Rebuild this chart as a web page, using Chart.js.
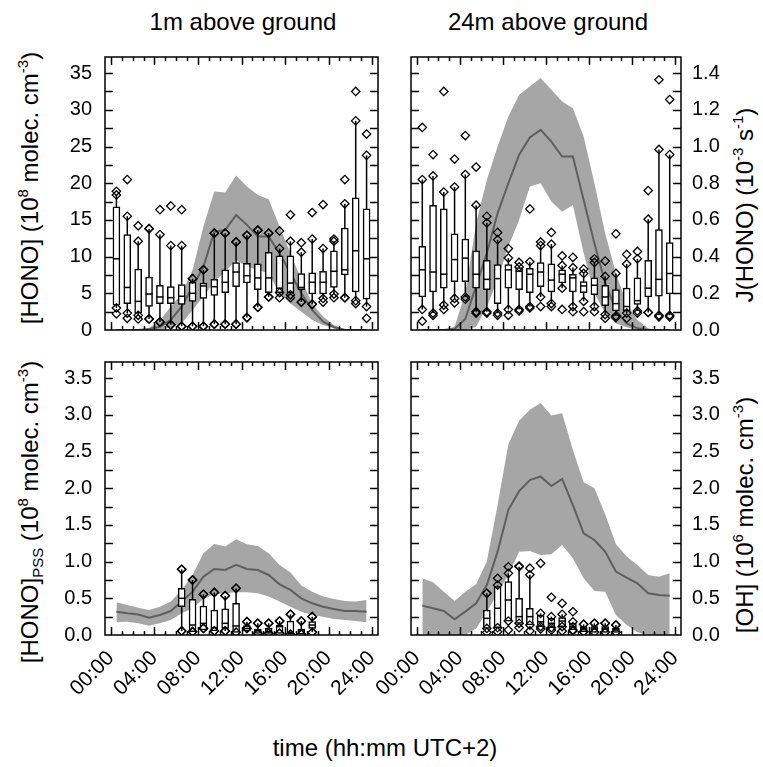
<!DOCTYPE html>
<html>
<head>
<meta charset="utf-8">
<script src="https://cdn.jsdelivr.net/npm/chart.js@4.4.1/dist/chart.umd.min.js"></script>
<style>
body { margin:0; width:763px; height:767px; background:#fff; position:relative; overflow:hidden; font-family:"Liberation Sans", Arial, sans-serif; }
canvas { position:absolute; }
.t { position:absolute; white-space:nowrap; color:#000; font-size:24px; line-height:1; transform:translate(-50%,-50%); }
.rot { transform:translate(-50%,-50%) rotate(-90deg); }
sup { font-size:15px; vertical-align:10px; line-height:0; }
sub { font-size:15px; vertical-align:-5px; line-height:0; }
</style>
</head>
<body>
<div class="t" style="left:243px; top:22px;">1m above ground</div>
<div class="t" style="left:548px; top:22px;">24m above ground</div>
<div class="t rot" style="left:30px; top:188px;">[HONO] (10<sup>8</sup> molec. cm<sup>-3</sup>)</div>
<div class="t rot" style="left:30px; top:512px;">[HONO]<sub>PSS</sub> (10<sup>8</sup> molec. cm<sup>-3</sup>)</div>
<div class="t rot" style="left:745px; top:205px;">J(HONO) (10<sup>-3</sup> s<sup>-1</sup>)</div>
<div class="t rot" style="left:745px; top:515px;">[OH] (10<sup>6</sup> molec. cm<sup>-3</sup>)</div>
<div class="t" style="left:385px; top:748px;">time (hh:mm UTC+2)</div>

<canvas id="c1" width="400" height="310" style="left:0px; top:40px;"></canvas>
<canvas id="c2" width="423" height="310" style="left:340px; top:40px;"></canvas>
<canvas id="c3" width="400" height="350" style="left:0px; top:345px;"></canvas>
<canvas id="c4" width="423" height="350" style="left:340px; top:345px;"></canvas>

<script>
// hour of day (bin centres)
const hours = [0.5, 1.5, 2.5, 3.5, 4.5, 5.5, 6.5, 7.5, 8.5, 9.5, 10.5, 11.5,
               12.5, 13.5, 14.5, 15.5, 16.5, 17.5, 18.5, 19.5, 20.5, 21.5, 22.5, 23.5];
const pssHours = [6.5, 7.5, 8.5, 9.5, 10.5, 11.5, 12.5, 13.5, 14.5, 15.5, 16.5, 17.5, 18.5];

const xTicks = [0, 4, 8, 12, 16, 20, 24];
const xTickLabels = ['00:00', '04:00', '08:00', '12:00', '16:00', '20:00', '24:00'];
const honoTicks = [0, 5, 10, 15, 20, 25, 30, 35];
const jTicks = [0, 0.2, 0.4, 0.6, 0.8, 1.0, 1.2, 1.4];
const pssTicks = [0, 0.5, 1.0, 1.5, 2.0, 2.5, 3.0, 3.5];

// boxes: [low, whiskerLow, q1, median, q3, whiskerHigh, high]
const hono1m = [
    [2.2, 3.0, 3.4, 9.7, 16.8, 18.4, 18.9],
    [1.6, 2.3, 3.6, 5.8, 13.0, 15.5, 20.5],
    [1.5, 2.0, 2.3, 3.9, 8.3, 12.1, 14.2],
    [1.5, 1.5, 3.2, 4.9, 7.2, 13.8, 13.8],
    [1.1, 1.1, 3.6, 4.5, 6.1, 13.0, 16.4],
    [0.7, 0.7, 3.6, 4.4, 5.9, 11.5, 16.9],
    [0.5, 0.5, 3.5, 4.6, 6.2, 11.5, 16.4],
    [0.5, 0.5, 3.9, 5.0, 6.5, 7.0, 7.0],
    [0.5, 0.5, 4.3, 6.0, 6.4, 8.2, 8.2],
    [0.8, 0.8, 4.7, 5.9, 6.9, 13.2, 13.2],
    [0.8, 0.8, 5.1, 6.5, 8.2, 13.2, 13.2],
    [0.8, 0.8, 5.9, 7.9, 9.2, 12.0, 12.0],
    [1.7, 1.7, 6.4, 7.4, 9.1, 12.9, 12.9],
    [3.1, 3.1, 5.5, 7.1, 9.0, 13.6, 13.6],
    [4.5, 4.5, 5.1, 7.1, 10.6, 13.2, 13.2],
    [4.4, 5.1, 5.1, 5.7, 10.1, 11.1, 13.5],
    [4.4, 4.8, 5.1, 6.4, 10.1, 12.1, 15.7],
    [3.8, 3.8, 5.5, 5.8, 7.7, 10.6, 11.9],
    [3.5, 3.5, 4.9, 6.5, 7.8, 12.4, 16.0],
    [3.8, 4.3, 4.9, 6.5, 8.0, 11.1, 17.1],
    [4.4, 4.9, 5.8, 8.0, 10.8, 12.1, 12.4],
    [4.4, 4.4, 7.5, 8.2, 13.9, 17.2, 20.5],
    [3.6, 4.0, 5.2, 10.8, 18.0, 28.5, 32.5],
    [1.6, 3.2, 4.2, 9.7, 16.5, 23.8, 26.7]
];
const hono24m = [
    [1.2, 2.8, 4.5, 8.2, 11.4, 20.5, 27.6],
    [2.0, 2.3, 5.2, 7.9, 17.0, 21.0, 23.9],
    [2.8, 3.4, 5.7, 7.6, 16.5, 18.8, 32.5],
    [3.7, 4.3, 6.6, 9.6, 13.1, 19.5, 23.3],
    [4.2, 4.5, 6.6, 9.8, 12.4, 21.2, 26.5],
    [2.3, 2.5, 5.7, 7.6, 10.8, 17.0, 22.2],
    [2.3, 2.5, 5.5, 6.9, 9.5, 14.6, 15.5],
    [2.0, 2.3, 3.6, 7.0, 8.9, 12.3, 13.3],
    [2.0, 2.8, 5.7, 8.2, 8.9, 9.8, 11.1],
    [2.6, 2.8, 5.5, 8.0, 8.5, 8.6, 9.2],
    [3.0, 3.2, 5.1, 7.6, 8.4, 9.3, 16.5],
    [3.2, 4.5, 5.9, 7.9, 9.2, 11.5, 12.0],
    [3.2, 3.6, 5.2, 6.8, 9.0, 11.7, 13.3],
    [2.8, 5.7, 6.4, 7.6, 8.2, 8.8, 10.1],
    [2.5, 3.2, 5.2, 7.1, 7.6, 8.5, 9.9],
    [2.5, 3.9, 5.1, 6.0, 6.6, 7.7, 8.3],
    [2.5, 3.2, 4.8, 6.1, 7.1, 9.2, 9.7],
    [1.6, 2.1, 3.3, 4.5, 6.1, 7.3, 9.4],
    [1.7, 1.9, 2.6, 3.6, 5.5, 7.7, 13.1],
    [1.6, 2.3, 2.6, 3.2, 5.7, 9.0, 10.3],
    [2.3, 2.6, 3.5, 4.0, 7.1, 9.7, 10.7],
    [2.4, 2.4, 4.5, 5.7, 9.5, 15.1, 19.0],
    [1.8, 2.0, 4.6, 6.9, 13.7, 24.6, 34.1],
    [1.8, 2.0, 4.9, 7.7, 11.9, 23.9, 31.4]
];
const pss1m = [
    [0.055, 0.055, 0.386, 0.5, 0.636, 0.895, 0.895],
    [0.045, 0.045, 0.045, 0.136, 0.486, 0.75, 0.75],
    [0.09, 0.09, 0.068, 0.159, 0.395, 0.555, 0.555],
    [0.055, 0.055, 0.055, 0.1, 0.34, 0.58, 0.58],
    [0.055, 0.055, 0.09, 0.159, 0.355, 0.536, 0.536],
    [0.036, 0.036, 0.036, 0.123, 0.432, 0.636, 0.636],
    [0.09, 0.09, 0.055, 0.09, 0.127, 0.182, 0.182],
    [0.023, 0.023, 0.023, 0.055, 0.082, 0.159, 0.159],
    [0.023, 0.023, 0.023, 0.045, 0.09, 0.159, 0.159],
    [0.023, 0.023, 0.023, 0.114, 0.136, 0.19, 0.19],
    [0.01, 0.01, 0.01, 0.036, 0.19, 0.282, 0.282],
    [0.01, 0.01, 0.01, 0.068, 0.082, 0.19, 0.19],
    [0.036, 0.036, 0.09, 0.136, 0.182, 0.25, 0.25]
];
const pss24m = [
    [0.036, 0.09, 0.09, 0.227, 0.34, 0.568, 0.568],
    [0.045, 0.1, 0.1, 0.364, 0.66, 0.68, 0.773],
    [0.068, 0.19, 0.19, 0.477, 0.727, 0.84, 0.93],
    [0.1, 0.159, 0.159, 0.25, 0.5, 0.93, 0.94],
    [0.055, 0.136, 0.136, 0.25, 0.364, 0.82, 0.91],
    [0.082, 0.114, 0.114, 0.18, 0.27, 0.295, 0.977],
    [0.068, 0.1, 0.1, 0.159, 0.227, 0.25, 0.514],
    [0.055, 0.114, 0.114, 0.19, 0.236, 0.282, 0.432],
    [0.055, 0.068, 0.068, 0.114, 0.159, 0.18, 0.318],
    [0.045, 0.045, 0.045, 0.082, 0.114, 0.145, 0.145],
    [0.036, 0.036, 0.036, 0.082, 0.114, 0.159, 0.159],
    [0.036, 0.036, 0.036, 0.082, 0.114, 0.159, 0.159],
    [0.036, 0.036, 0.036, 0.068, 0.09, 0.136, 0.136]
];

// J(HONO) and OH: mean and spread
const j1mMean  = [0, 0, 0, 0.005, 0.018, 0.055, 0.127, 0.236, 0.345, 0.536, 0.545, 0.627, 0.573, 0.509, 0.509, 0.418, 0.309, 0.2, 0.109, 0.045, 0.015, 0, 0, 0];
const j1mUpper = [0, 0, 0, 0.01, 0.055, 0.127, 0.2, 0.327, 0.564, 0.755, 0.749, 0.842, 0.782, 0.736, 0.713, 0.564, 0.418, 0.273, 0.145, 0.073, 0.027, 0.004, 0, 0];
const j1mLower = [0, 0, 0, 0, 0, 0.015, 0.036, 0.109, 0.182, 0.264, 0.318, 0.382, 0.345, 0.327, 0.309, 0.2, 0.145, 0.1, 0.055, 0.027, 0.009, 0, 0, 0];
const j24mMean  = [0, 0, 0, 0.005, 0.06, 0.24, 0.42, 0.636, 0.8, 0.955, 1.049, 1.091, 1.027, 0.945, 0.945, 0.709, 0.473, 0.255, 0.109, 0.036, 0.009, 0, 0, 0];
const j24mUpper = [0, 0, 0, 0.018, 0.2, 0.582, 0.818, 1.0, 1.164, 1.282, 1.327, 1.373, 1.309, 1.245, 1.209, 1.055, 0.8, 0.527, 0.309, 0.145, 0.055, 0.009, 0, 0];
const j24mLower = [0, 0, 0, 0, 0, 0.018, 0.127, 0.273, 0.455, 0.6, 0.782, 0.8, 0.7, 0.645, 0.682, 0.418, 0.2, 0.091, 0.036, 0.015, 0, 0, 0, 0];
const oh1mMean  = [0.318, 0.295, 0.28, 0.236, 0.273, 0.327, 0.455, 0.59, 0.795, 0.9, 0.886, 0.955, 0.9, 0.886, 0.818, 0.69, 0.614, 0.5, 0.432, 0.386, 0.355, 0.327, 0.327, 0.318];
const oh1mUpper = [0.445, 0.41, 0.373, 0.34, 0.386, 0.455, 0.614, 0.818, 1.114, 1.24, 1.205, 1.305, 1.236, 1.214, 1.114, 0.955, 0.85, 0.673, 0.59, 0.523, 0.49, 0.464, 0.455, 0.477];
const oh1mLower = [0.173, 0.182, 0.159, 0.127, 0.159, 0.205, 0.295, 0.364, 0.49, 0.555, 0.568, 0.582, 0.582, 0.568, 0.523, 0.455, 0.386, 0.318, 0.273, 0.25, 0.218, 0.205, 0.191, 0.173];
const oh24mMean  = [0.4, 0.364, 0.327, 0.214, 0.318, 0.432, 0.68, 1.136, 1.705, 1.96, 2.11, 2.16, 2.03, 2.127, 1.77, 1.386, 1.295, 1.136, 0.864, 0.782, 0.705, 0.568, 0.545, 0.536];
const oh24mUpper = [0.773, 0.718, 0.59, 0.464, 0.59, 0.69, 1.0, 1.77, 2.6, 2.92, 3.07, 3.16, 2.99, 3.02, 2.52, 2.08, 2.0, 1.645, 1.236, 1.068, 0.955, 0.818, 0.795, 0.84];
const oh24mLower = [0.01, 0, 0, 0, 0, 0.09, 0.318, 0.568, 0.818, 1.136, 1.145, 1.09, 1.1, 1.227, 1.045, 0.773, 0.6, 0.59, 0.273, 0.136, 0.036, 0, 0, 0.01];

const FONT = { family: '"Liberation Sans", Arial, sans-serif', size: 20 };
const XFONT = { family: '"Liberation Sans", Arial, sans-serif', size: 21 };
const BAND = 'rgb(166,166,166)';
const LINE = 'rgb(95,95,95)';

window.panelBoxes = {}; // box data by canvas id, used by the plugin

const panelDecor = {
    id: 'panelDecor',
    // whiskers go over the band but under the boxes
    afterDatasetDraw(chart, args) {
        if (args.index !== 2) return;
        const p = window.panelBoxes[chart.canvas.id];
        const ctx = chart.ctx, x = chart.scales.x, y = chart.scales.y;
        ctx.save();
        ctx.strokeStyle = '#000';
        ctx.lineWidth = 1.5;
        p.hours.forEach((h, i) => {
            const b = p.boxes[i];
            const px = x.getPixelForValue(h);
            ctx.beginPath();
            ctx.moveTo(px, y.getPixelForValue(b[1]));
            ctx.lineTo(px, y.getPixelForValue(b[5]));
            ctx.stroke();
        });
        ctx.restore();
    },
    afterDatasetsDraw(chart) {
        const p = window.panelBoxes[chart.canvas.id];
        const ctx = chart.ctx, x = chart.scales.x, y = chart.scales.y;
        ctx.save();
        ctx.strokeStyle = '#000';
        ctx.lineWidth = 1.5;
        p.hours.forEach((h, i) => {
            const px = x.getPixelForValue(h);
            const py = y.getPixelForValue(p.boxes[i][3]);
            ctx.beginPath();
            ctx.moveTo(px - 3.5, py);
            ctx.lineTo(px + 3.5, py);
            ctx.stroke();
        });
        ctx.restore();
    },
    afterDraw(chart) {
        const p = window.panelBoxes[chart.canvas.id];
        const ctx = chart.ctx, x = chart.scales.x, y = chart.scales.y;
        const a = chart.chartArea;
        ctx.save();
        ctx.strokeStyle = '#000';
        ctx.lineWidth = 1.5;
        ctx.strokeRect(a.left, a.top, a.right - a.left, a.bottom - a.top);
        ctx.beginPath();
        for (let h = 0; h <= 24; h++) {
            const px = Math.round(x.getPixelForValue(h)) + 0.5;
            const len = h % 4 === 0 ? 8 : 4;
            ctx.moveTo(px, a.bottom); ctx.lineTo(px, a.bottom - len);
            ctx.moveTo(px, a.top); ctx.lineTo(px, a.top + len);
        }
        for (let k = 1; k <= 14; k++) {
            const py = Math.round(y.getPixelForValue(k * p.yStep)) + 0.5;
            ctx.moveTo(a.left, py); ctx.lineTo(a.left + 8, py);
            ctx.moveTo(a.right, py); ctx.lineTo(a.right - 8, py);
        }
        ctx.stroke();
        ctx.restore();
    }
};

function pts(xs, ys) {
    return xs.map((h, i) => ({ x: h, y: ys[i] }));
}

// grid hidden, but its tick length still spaces the labels away from the frame
function gap(len) {
    return { display: false, drawTicks: true, tickLength: len };
}

function makePanel(id, o) {
    window.panelBoxes[id] = { hours: o.boxHours, boxes: o.boxes, yStep: o.yStep };

    const diamonds = [];
    o.boxes.forEach((b, i) => {
        [b[0], b[1], b[5], b[6]].forEach(v => diamonds.push({ x: o.boxHours[i], y: v }));
    });

    new Chart(document.getElementById(id), {
        type: 'bar',
        data: {
            datasets: [
                { type: 'line', data: pts(hours, o.upper), yAxisID: 'yr', borderWidth: 0, pointRadius: 0,
                  backgroundColor: BAND, fill: '+1', order: 10 },
                { type: 'line', data: pts(hours, o.lower), yAxisID: 'yr', borderWidth: 0, pointRadius: 0,
                  fill: false, order: 9 },
                { type: 'line', data: pts(hours, o.mean), yAxisID: 'yr', borderColor: LINE, borderWidth: 2,
                  pointRadius: 0, fill: false, order: 8 },
                { type: 'bar', data: o.boxes.map((b, i) => ({ x: o.boxHours[i], y: [b[2], b[4]] })), yAxisID: 'y',
                  backgroundColor: '#fff', borderColor: '#000', borderWidth: 1.5, borderSkipped: false,
                  barThickness: 7, order: 2 },
                { type: 'scatter', data: diamonds, yAxisID: 'y', pointStyle: 'rectRot', pointRadius: 4.2,
                  borderColor: '#000', borderWidth: 1.3, backgroundColor: 'rgba(0,0,0,0)', order: 1 }
            ]
        },
        options: {
            responsive: false,
            animation: false,
            devicePixelRatio: 1,
            layout: { padding: o.padding },
            plugins: { legend: { display: false }, tooltip: { enabled: false } },
            scales: {
                x: {
                    type: 'linear', min: -0.55, max: 24.55, offset: false, display: o.showX,
                    grid: gap(11), border: { display: false },
                    ticks: { autoSkip: false, minRotation: 45, maxRotation: 45, padding: 0, font: XFONT, color: '#000',
                             callback: (v, i) => xTickLabels[i] },
                    afterBuildTicks: s => { s.ticks = xTicks.map(v => ({ value: v })); },
                    afterFit: s => { s.height = o.showX ? 60 : 0; }
                },
                y: {
                    type: 'linear', position: 'left', min: 0, max: o.yMax, display: o.showLeft,
                    grid: gap(13), border: { display: false },
                    ticks: { padding: 0, font: FONT, color: '#000', callback: v => v.toFixed(o.leftDec) },
                    afterBuildTicks: s => { s.ticks = o.leftTicks.map(v => ({ value: v })); },
                    afterFit: s => { s.width = o.showLeft ? 105 : 0; }
                },
                yr: {
                    type: 'linear', position: 'right', min: 0, max: o.yrMax, display: o.showRight,
                    grid: gap(11), border: { display: false },
                    ticks: { padding: 0, font: FONT, color: '#000', callback: v => v.toFixed(1) },
                    afterBuildTicks: s => { s.ticks = o.rightTicks.map(v => ({ value: v })); },
                    afterFit: s => { s.width = o.showRight ? 82 : 0; }
                }
            }
        },
        plugins: [panelDecor]
    });
}

makePanel('c1', {
    boxHours: hours, boxes: hono1m, mean: j1mMean, upper: j1mUpper, lower: j1mLower,
    yMax: 37.2, yrMax: 1.488, yStep: 2.5, leftTicks: honoTicks, leftDec: 0, rightTicks: jTicks,
    showX: false, showLeft: true, showRight: false,
    padding: { top: 17, right: 22, bottom: 20, left: 0 }
});
makePanel('c2', {
    boxHours: hours, boxes: hono24m, mean: j24mMean, upper: j24mUpper, lower: j24mLower,
    yMax: 37.2, yrMax: 1.488, yStep: 2.5, leftTicks: honoTicks, leftDec: 0, rightTicks: jTicks,
    showX: false, showLeft: false, showRight: true,
    padding: { top: 17, right: 0, bottom: 20, left: 71 }
});
makePanel('c3', {
    boxHours: pssHours, boxes: pss1m, mean: oh1mMean, upper: oh1mUpper, lower: oh1mLower,
    yMax: 3.72, yrMax: 3.72, yStep: 0.25, leftTicks: pssTicks, leftDec: 1, rightTicks: pssTicks,
    showX: true, showLeft: true, showRight: false,
    padding: { top: 17, right: 22, bottom: 0, left: 0 }
});
makePanel('c4', {
    boxHours: pssHours, boxes: pss24m, mean: oh24mMean, upper: oh24mUpper, lower: oh24mLower,
    yMax: 3.72, yrMax: 3.72, yStep: 0.25, leftTicks: pssTicks, leftDec: 1, rightTicks: pssTicks,
    showX: true, showLeft: false, showRight: true,
    padding: { top: 17, right: 0, bottom: 0, left: 71 }
});
</script>
</body>
</html>
